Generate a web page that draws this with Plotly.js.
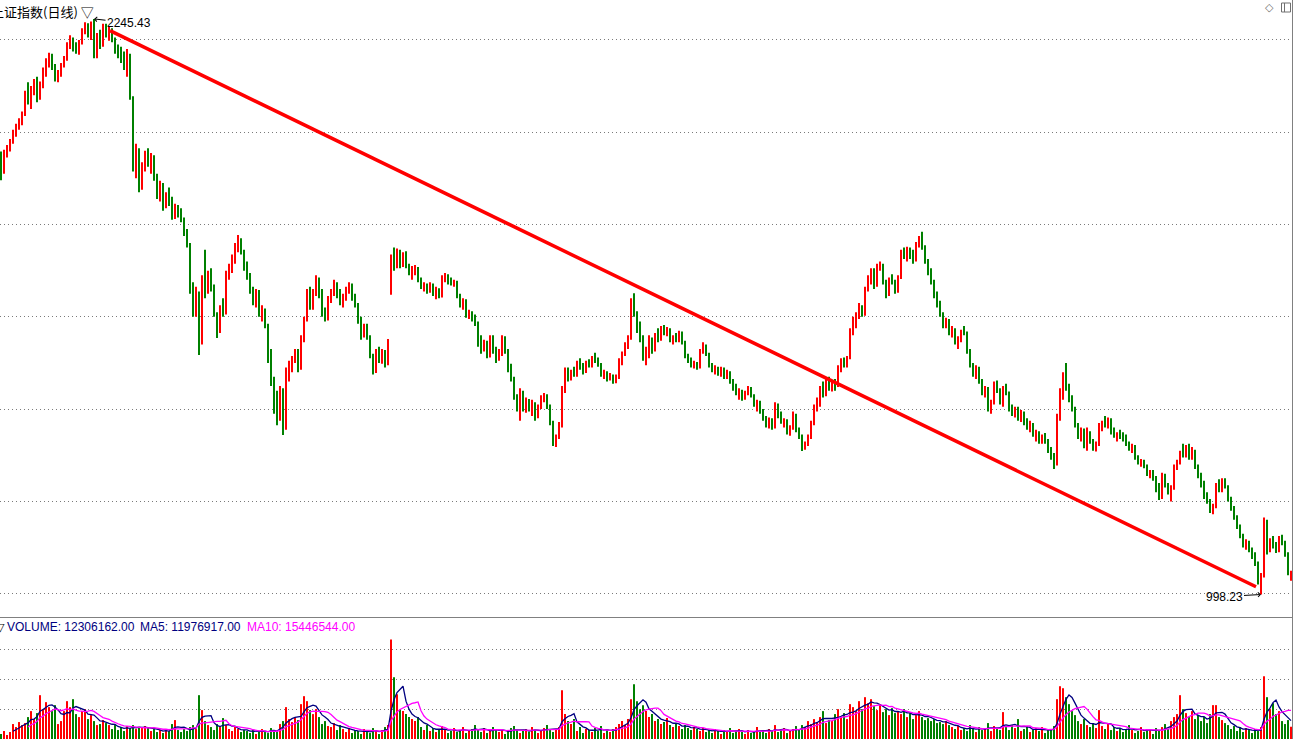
<!DOCTYPE html>
<html>
<head>
<meta charset="utf-8">
<script src="https://cdn.plot.ly/plotly-3.0.1.min.js"></script>
<style>html,body{margin:0;padding:0;background:#fff;}#chart{width:1294px;height:739px;}</style>
</head>
<body>
<div id="chart"></div>
<script>
const opens = [
1948,1915,1955,1966,1980,2000,2010,2022,2040,2082,
2070,2095,2105,2078,2102,2135,2150,2165,2140,2118,
2128,2145,2160,2190,2200,2182,2175,2195,2220,2232,
2212,2235,2170,2205,2190,2228,2210,2220,2200,2178,
2168,2160,2145,2165,2075,1925,1960,1880,1925,1950,
1935,1945,1905,1862,1885,1840,1862,1850,1818,1838,
1822,1812,1780,1755,1665,1615,1650,1560,1690,1660,
1690,1665,1600,1572,1615,1608,1690,1700,1725,1750,
1765,1740,1705,1690,1655,1640,1652,1608,1615,1580,
1510,1460,1400,1380,1440,1362,1480,1495,1505,1522,
1490,1550,1595,1650,1625,1650,1680,1648,1610,1598,
1640,1652,1672,1645,1632,1640,1660,1668,1640,1628,
1590,1560,1578,1555,1515,1480,1522,1505,1525,1500,
1651,1718,1708,1740,1712,1735,1710,1695,1702,1705,
1680,1665,1668,1655,1670,1650,1660,1645,1682,1688,
1675,1672,1676,1645,1628,1635,1605,1610,1598,1585,
1545,1530,1545,1515,1555,1528,1510,1520,1555,1525,
1490,1465,1428,1390,1435,1400,1418,1405,1412,1385,
1405,1425,1430,1405,1372,1330,1340,1365,1440,1480,
1468,1480,1475,1498,1490,1482,1500,1495,1510,1505,
1498,1475,1480,1468,1472,1460,1470,1505,1520,1540,
1555,1638,1608,1570,1555,1512,1528,1550,1530,1560,
1552,1575,1565,1572,1550,1555,1548,1565,1545,1515,
1505,1495,1500,1490,1525,1535,1520,1495,1485,1490,
1478,1488,1470,1480,1460,1448,1435,1440,1425,1436,
1445,1430,1410,1415,1395,1380,1370,1378,1362,1405,
1385,1372,1375,1350,1360,1385,1355,1340,1318,1325,
1340,1370,1400,1410,1445,1430,1458,1445,1455,1450,
1490,1500,1495,1510,1565,1590,1600,1620,1605,1660,
1680,1700,1668,1708,1712,1675,1648,1680,1675,1655,
1685,1740,1730,1745,1730,1722,1755,1770,1750,1720,
1695,1675,1648,1628,1605,1582,1592,1565,1572,1545,
1550,1568,1565,1525,1495,1478,1490,1460,1438,1445,
1400,1415,1455,1440,1415,1445,1435,1400,1390,1400,
1380,1392,1370,1360,1368,1345,1350,1332,1340,1330,
1310,1298,1282,1380,1435,1470,1450,1420,1400,1365,
1340,1355,1320,1350,1330,1315,1325,1362,1370,1365,
1378,1350,1342,1345,1340,1335,1325,1315,1320,1295,
1285,1288,1275,1260,1265,1250,1225,1210,1255,1235,
1220,1230,1275,1285,1305,1300,1315,1295,1310,1275,
1255,1240,1210,1200,1180,1190,1230,1225,1245,1232,
1205,1185,1165,1145,1125,1108,1112,1095,1080,1065,
1012,1040,1150,1095,1115,1105,1092,1120,1110,1085,
1035
];
const highs = [
1958,1962,1972,1985,2005,2018,2030,2045,2090,2108,
2100,2115,2120,2110,2140,2160,2172,2170,2148,2135,
2150,2165,2195,2210,2205,2195,2200,2225,2238,2236,
2240,2245.43,2215,2222,2235,2235,2230,2225,2205,2190,
2185,2175,2180,2170,2078,1975,1965,1935,1960,1965,
1955,1950,1910,1895,1890,1870,1880,1860,1845,1842,
1835,1815,1790,1760,1675,1665,1655,1690,1745,1700,
1705,1670,1610,1625,1640,1700,1715,1735,1760,1777,
1770,1745,1720,1695,1665,1660,1658,1625,1618,1585,
1530,1470,1440,1450,1445,1490,1505,1515,1530,1530,
1560,1600,1660,1665,1660,1690,1685,1660,1620,1645,
1660,1680,1675,1660,1650,1665,1675,1672,1650,1630,
1600,1585,1585,1560,1520,1530,1535,1530,1528,1552,
1735,1750,1748,1745,1740,1742,1715,1710,1712,1708,
1685,1675,1672,1675,1672,1665,1662,1690,1695,1692,
1685,1680,1678,1650,1640,1638,1615,1612,1605,1590,
1560,1550,1548,1560,1560,1535,1530,1560,1558,1530,
1498,1470,1432,1445,1440,1425,1422,1420,1415,1410,
1430,1435,1432,1410,1375,1345,1372,1450,1490,1490,
1485,1492,1505,1510,1500,1505,1508,1515,1522,1512,
1500,1485,1482,1478,1475,1475,1510,1525,1545,1560,
1640,1651,1612,1590,1560,1535,1560,1555,1565,1575,
1580,1582,1578,1575,1560,1565,1570,1568,1548,1520,
1512,1505,1502,1530,1545,1540,1522,1500,1495,1492,
1492,1490,1485,1482,1465,1455,1445,1442,1440,1450,
1448,1432,1420,1418,1400,1385,1382,1380,1415,1412,
1395,1380,1378,1365,1395,1390,1360,1345,1330,1345,
1375,1410,1425,1450,1460,1465,1470,1460,1465,1495,
1510,1512,1515,1575,1600,1610,1630,1625,1665,1690,
1705,1705,1715,1720,1715,1680,1685,1692,1680,1690,
1745,1750,1752,1750,1745,1762,1775,1784,1755,1725,
1705,1680,1655,1635,1610,1598,1595,1580,1575,1558,
1572,1580,1568,1530,1500,1495,1492,1465,1450,1448,
1420,1460,1462,1445,1450,1455,1438,1410,1405,1405,
1398,1395,1380,1375,1370,1355,1352,1345,1348,1335,
1318,1305,1390,1445,1480,1500,1455,1430,1405,1370,
1360,1358,1360,1352,1335,1330,1370,1375,1385,1382,
1380,1360,1350,1355,1350,1345,1330,1325,1322,1300,
1292,1290,1280,1268,1268,1255,1240,1262,1260,1240,
1235,1280,1290,1310,1325,1322,1325,1318,1312,1280,
1262,1245,1220,1205,1195,1240,1248,1250,1250,1235,
1210,1190,1170,1150,1130,1118,1115,1100,1090,1070,
1045,1165,1160,1120,1125,1112,1125,1128,1115,1090,
1050
];
const lows = [
1896,1910,1945,1958,1975,1990,2005,2015,2035,2060,
2050,2080,2065,2070,2095,2120,2140,2135,2110,2108,
2120,2140,2155,2180,2175,2170,2168,2190,2212,2205,
2200,2160,2160,2180,2185,2205,2198,2195,2170,2160,
2150,2135,2120,2070,1915,1900,1870,1875,1915,1925,
1910,1895,1855,1850,1830,1835,1840,1810,1812,1815,
1805,1775,1750,1650,1600,1600,1517,1540,1640,1650,
1655,1600,1554,1565,1600,1605,1680,1695,1715,1740,
1735,1700,1680,1650,1625,1620,1600,1590,1575,1500,
1450,1390,1365,1375,1344,1355,1460,1480,1500,1480,
1485,1545,1590,1615,1615,1645,1640,1600,1590,1592,
1630,1645,1640,1625,1620,1635,1650,1635,1620,1585,
1550,1555,1550,1510,1475,1478,1500,1498,1490,1495,
1648,1700,1705,1705,1708,1705,1690,1680,1690,1675,
1660,1655,1650,1652,1645,1638,1640,1642,1675,1670,
1668,1665,1640,1620,1615,1598,1595,1590,1580,1535,
1520,1525,1510,1512,1520,1500,1505,1515,1520,1480,
1460,1420,1395,1375,1395,1392,1395,1385,1375,1380,
1400,1415,1400,1365,1320,1318,1335,1360,1435,1460,
1462,1470,1470,1485,1475,1478,1490,1490,1500,1492,
1470,1465,1460,1462,1455,1456,1465,1495,1515,1530,
1550,1600,1565,1545,1505,1495,1510,1520,1525,1545,
1548,1560,1558,1545,1540,1545,1545,1540,1510,1500,
1490,1488,1485,1488,1520,1515,1490,1480,1475,1472,
1470,1465,1465,1455,1440,1430,1420,1418,1420,1430,
1425,1405,1395,1390,1375,1360,1358,1355,1358,1380,
1368,1360,1345,1342,1355,1350,1335,1309,1312,1320,
1335,1365,1395,1405,1425,1428,1440,1438,1440,1448,
1480,1490,1490,1508,1560,1575,1595,1600,1602,1655,
1670,1660,1665,1700,1670,1640,1645,1670,1650,1652,
1682,1725,1720,1725,1715,1720,1750,1745,1715,1690,
1670,1640,1620,1600,1575,1575,1560,1555,1540,1530,
1545,1560,1520,1490,1470,1465,1455,1430,1425,1395,
1390,1410,1435,1410,1405,1430,1395,1385,1382,1375,
1372,1365,1355,1350,1340,1330,1325,1325,1325,1305,
1290,1270,1278,1375,1420,1440,1415,1395,1360,1335,
1330,1315,1310,1325,1310,1308,1320,1352,1360,1358,
1345,1338,1330,1335,1330,1320,1310,1305,1290,1280,
1275,1272,1255,1250,1245,1220,1203,1205,1230,1215,
1200,1225,1268,1280,1295,1295,1290,1290,1270,1250,
1230,1205,1195,1175,1172,1185,1220,1220,1228,1200,
1180,1160,1140,1120,1100,1095,1090,1075,1060,1020,
998.23,1035,1085,1090,1098,1088,1090,1105,1080,1040,
1028
];
const closes = [
1912,1955,1966,1980,2000,2010,2022,2040,2080,2070,
2095,2105,2075,2102,2135,2150,2165,2140,2118,2128,
2145,2160,2190,2200,2182,2175,2195,2220,2232,2212,
2235,2168,2205,2190,2228,2210,2220,2200,2178,2168,
2160,2145,2170,2078,1925,1960,1880,1925,1950,1935,
1945,1905,1862,1885,1840,1862,1850,1818,1838,1822,
1812,1780,1755,1665,1615,1650,1525,1680,1660,1690,
1665,1610,1570,1615,1608,1690,1700,1725,1750,1765,
1740,1705,1690,1655,1640,1652,1608,1615,1580,1510,
1460,1400,1380,1440,1360,1480,1495,1505,1522,1490,
1550,1595,1650,1625,1650,1680,1648,1610,1598,1640,
1652,1672,1645,1632,1640,1660,1668,1640,1628,1590,
1560,1578,1555,1515,1480,1522,1505,1525,1500,1545,
1715,1708,1740,1712,1735,1710,1695,1702,1705,1680,
1665,1668,1655,1670,1650,1660,1645,1682,1688,1675,
1672,1676,1645,1628,1635,1605,1610,1598,1585,1545,
1530,1545,1515,1555,1528,1510,1520,1555,1525,1490,
1465,1428,1410,1435,1400,1418,1405,1412,1385,1405,
1425,1430,1405,1372,1330,1340,1365,1440,1480,1468,
1480,1475,1498,1490,1482,1500,1495,1510,1505,1498,
1475,1480,1468,1472,1460,1470,1505,1520,1540,1555,
1635,1608,1570,1555,1512,1528,1550,1530,1560,1552,
1575,1565,1572,1550,1555,1548,1565,1545,1515,1505,
1495,1500,1490,1525,1535,1520,1495,1485,1490,1478,
1488,1470,1480,1460,1448,1435,1440,1425,1436,1445,
1430,1410,1415,1395,1380,1370,1378,1362,1405,1385,
1372,1375,1350,1360,1385,1355,1340,1318,1325,1340,
1370,1400,1410,1445,1430,1458,1445,1455,1450,1490,
1500,1495,1510,1565,1590,1600,1620,1605,1660,1680,
1700,1668,1708,1712,1675,1648,1680,1675,1655,1685,
1740,1730,1745,1730,1722,1755,1770,1750,1720,1695,
1675,1648,1628,1605,1582,1592,1565,1572,1545,1550,
1568,1565,1525,1495,1478,1490,1460,1438,1445,1400,
1415,1455,1440,1415,1445,1435,1400,1390,1400,1380,
1392,1370,1360,1368,1345,1350,1332,1340,1330,1310,
1298,1280,1380,1435,1470,1450,1420,1400,1365,1340,
1355,1320,1350,1330,1315,1325,1362,1370,1365,1378,
1350,1342,1345,1340,1335,1325,1315,1320,1295,1285,
1288,1275,1260,1265,1250,1225,1210,1255,1235,1220,
1230,1275,1285,1305,1300,1315,1295,1310,1275,1255,
1240,1210,1200,1180,1190,1230,1225,1245,1232,1205,
1185,1165,1145,1125,1108,1112,1095,1080,1065,1025,
1040,1150,1095,1115,1105,1092,1120,1110,1085,1045,
1042
];
// volume, millions of lots
const volumes = [
5,8,4,7,15,12,17,14,16,22,
28,20,26,44,30,37,32,28,34,15,
18,28,38,32,40,25,22,28,30,20,
24,18,14,15,19,16,14,10,14,9,
12,8,13,11,14,10,12,11,13,12,
8,10,7,9,6,10,8,15,19,9,
7,10,8,12,14,10,44,29,18,14,
12,9,15,12,21,14,10,8,12,10,
7,9,8,6,9,5,8,10,7,6,
11,9,7,15,18,32,20,17,22,19,
35,43,38,29,25,30,22,15,18,13,
12,16,9,14,10,7,11,6,9,8,
5,10,7,6,11,8,5,9,12,14,
100,62,45,30,28,25,22,20,18,22,
12,9,14,8,11,7,10,13,9,6,
8,11,7,9,12,6,8,10,14,9,
7,11,6,8,12,10,7,9,5,8,
11,13,9,6,8,10,7,12,9,6,
8,11,14,10,7,9,12,49,25,18,
15,20,8,12,6,10,9,7,11,8,
13,6,9,7,10,12,15,18,14,20,
40,55,38,30,34,28,22,25,18,20,
15,17,21,14,12,16,13,10,14,11,
9,12,10,8,11,7,9,6,10,8,
5,9,7,11,6,8,10,7,5,9,
6,8,12,7,9,6,10,8,14,7,
9,11,6,8,10,13,9,14,12,18,
15,20,17,22,28,16,19,18,25,30,
22,26,20,35,32,28,38,30,42,36,
40,33,29,35,27,30,24,31,26,28,
25,30,22,26,20,24,28,22,19,21,
18,20,16,17,15,18,14,12,10,13,
9,11,8,14,10,7,12,9,11,16,
8,13,10,9,27,12,9,14,11,20,
8,10,13,7,9,11,8,12,6,10,
9,13,40,53,51,42,35,28,24,18,
15,20,14,12,16,11,29,13,10,15,
9,12,8,11,7,10,14,9,6,8,
12,7,10,9,5,11,8,12,15,10,
18,22,25,44,30,26,22,28,20,24,
18,22,16,25,34,34,22,19,16,14,
10,13,8,12,7,11,9,6,10,8,
12,63,42,30,36,25,28,18,15,19,
12.31
];
const gridPrices = [1000, 1200, 1400, 1600, 1800, 2000, 2200];
const gridVolumes = [30, 60, 90];
const peakIndex = 31, peakValue = 2245.43;
const lowIndex = 420, lowValue = 998.23;
const trendX = [36.33, 418.33];
const trendY = [2220, 1015];
const chartTitle = '上证指数(日线) ▽';
const volText = 'VOLUME: 12306162.00';
const ma5Text = 'MA5: 11976917.00';
const ma10Text = 'MA10: 15446544.00';

// ---- build ----
const W = 1294, H = 739;
const idx = closes.map((_, i) => i);
const upColor = '#FF0000', downColor = '#008000';
const volColors = closes.map((c, i) => c >= opens[i] ? upColor : downColor);
function movingAverage(arr, n) {
  return arr.map((v, i) => {
    if (i < n - 1) return null;
    let s = 0;
    for (let k = i - n + 1; k <= i; k++) s += arr[k];
    return s / n;
  });
}
const ma5 = movingAverage(volumes, 5);
const ma10 = movingAverage(volumes, 10);
const px = x => x / W;
const py = y => 1 - y / H;

const traces = [
  {
    type: 'ohlc', x: idx, open: opens, high: highs, low: lows, close: closes,
    xaxis: 'x', yaxis: 'y', tickwidth: 0, hoverinfo: 'skip',
    increasing: {line: {color: upColor, width: 2}},
    decreasing: {line: {color: downColor, width: 2}}
  },
  {
    type: 'scatter', mode: 'lines', x: trendX, y: trendY, xaxis: 'x', yaxis: 'y',
    line: {color: '#FF0000', width: 3.5}, hoverinfo: 'skip'
  },
  {
    type: 'bar', x: idx, y: volumes, xaxis: 'x', yaxis: 'y2',
    marker: {color: volColors, line: {width: 0}}, hoverinfo: 'skip'
  },
  {
    type: 'scatter', mode: 'lines', x: idx, y: ma5, xaxis: 'x', yaxis: 'y2',
    line: {color: '#000080', width: 1.3}, hoverinfo: 'skip', connectgaps: false
  },
  {
    type: 'scatter', mode: 'lines', x: idx, y: ma10, xaxis: 'x', yaxis: 'y2',
    line: {color: '#FF00FF', width: 1.3}, hoverinfo: 'skip', connectgaps: false
  }
];

const gridStyle = {showgrid: true, gridcolor: '#7a7a7a', gridwidth: 1, griddash: '1px,3px',
  zeroline: false, showticklabels: false, ticks: '', showline: false, fixedrange: true};

const layout = {
  width: W, height: H,
  margin: {l: 0, r: 0, t: 0, b: 0, pad: 0},
  paper_bgcolor: '#ffffff', plot_bgcolor: '#ffffff',
  showlegend: false, hovermode: false, bargap: 0.33,
  xaxis: {range: [-1/3, (W - 1) / 3], domain: [0, 1], showgrid: false, zeroline: false,
    showticklabels: false, ticks: '', showline: false, fixedrange: true,
    rangeslider: {visible: false}},
  yaxis: Object.assign({domain: [123 / H, 1], range: [951.7, 2286.4],
    tickmode: 'array', tickvals: gridPrices}, gridStyle),
  yaxis2: Object.assign({domain: [0, 119 / H], range: [0, 119.5], anchor: 'x',
    tickmode: 'array', tickvals: gridVolumes}, gridStyle),
  shapes: [
    {type: 'line', xref: 'paper', yref: 'paper', x0: 0, x1: px(1292.5), y0: py(617.5), y1: py(617.5),
      line: {color: '#808080', width: 1}},
    {type: 'line', xref: 'paper', yref: 'paper', x0: px(1292.5), x1: px(1292.5), y0: 0, y1: 1,
      line: {color: '#808080', width: 1}},
    {type: 'rect', xref: 'paper', yref: 'paper', x0: px(1281.5), x1: px(1290.5), y0: py(12), y1: py(3),
      line: {color: '#707070', width: 1}},
    {type: 'line', xref: 'paper', yref: 'paper', x0: px(1284.5), x1: px(1284.5), y0: py(12), y1: py(3),
      line: {color: '#707070', width: 1}}
  ],
  annotations: [
    {xref: 'paper', yref: 'paper', x: px(-11), y: 1, xanchor: 'left', yanchor: 'top',
      text: chartTitle, showarrow: false,
      font: {family: 'Noto Sans CJK SC, sans-serif', size: 13, color: '#000000'}},
    {xref: 'paper', yref: 'paper', x: px(1269.5), y: py(7.5), xanchor: 'center', yanchor: 'middle',
      text: '◇', showarrow: false, font: {family: 'DejaVu Sans', size: 11, color: '#707070'}},
    {xref: 'paper', yref: 'paper', x: px(-6), y: py(627), xanchor: 'left', yanchor: 'middle',
      text: '▽', showarrow: false, font: {family: 'DejaVu Sans', size: 11, color: '#000000'}},
    {xref: 'paper', yref: 'paper', x: px(5), y: py(627), xanchor: 'left', yanchor: 'middle',
      text: volText, showarrow: false, font: {family: 'Liberation Sans', size: 12, color: '#000080'}},
    {xref: 'paper', yref: 'paper', x: px(138), y: py(627), xanchor: 'left', yanchor: 'middle',
      text: ma5Text, showarrow: false, font: {family: 'Liberation Sans', size: 12, color: '#000080'}},
    {xref: 'paper', yref: 'paper', x: px(245), y: py(627), xanchor: 'left', yanchor: 'middle',
      text: ma10Text, showarrow: false, font: {family: 'Liberation Sans', size: 12, color: '#FF00FF'}},
    {xref: 'x', yref: 'y', x: peakIndex, y: peakValue, text: peakValue.toFixed(2),
      showarrow: true, ax: 35, ay: 4, arrowhead: 4, arrowsize: 0.9, arrowwidth: 1, arrowcolor: '#000000',
      standoff: 0, font: {family: 'Liberation Sans', size: 12, color: '#000000'}},
    {xref: 'x', yref: 'y', x: lowIndex, y: lowValue, text: lowValue.toFixed(2),
      showarrow: true, ax: -37, ay: 2, arrowhead: 4, arrowsize: 0.9, arrowwidth: 1, arrowcolor: '#000000',
      standoff: 0, font: {family: 'Liberation Sans', size: 12, color: '#000000'}}
  ]
};

Plotly.newPlot('chart', traces, layout, {staticPlot: true, displayModeBar: false});
</script>
</body>
</html>
